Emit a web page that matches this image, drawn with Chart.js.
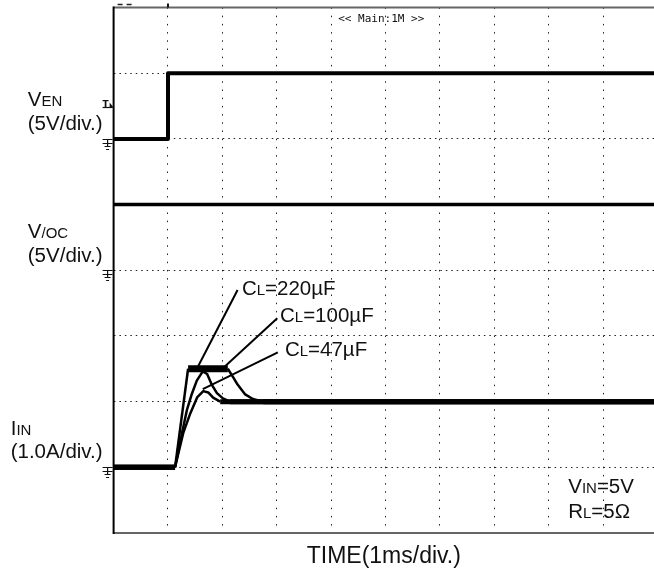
<!DOCTYPE html>
<html>
<head>
<meta charset="utf-8">
<script src="https://cdn.jsdelivr.net/npm/chart.js@4"></script>
<style>
  html, body { margin: 0; padding: 0; background: #fff; overflow: hidden; }
  #wrap { position: relative; width: 662px; height: 575px; }
</style>
</head>
<body>
<div id="wrap"><canvas id="scope"></canvas></div>
<script>
// Screen is 10 time divisions (1 ms/div) by 8 vertical divisions
const timeDivs = 10;
const screenDivs = 8;

// V_EN channel (ground at div 6)
const enTime = [0, 1, 1, 10];
const enLevel = [6, 6, 7, 7];

// V/OC channel (ground at div 4)
const ocTime = [0, 10];
const ocLevel = [5, 5];

// I_IN channel (ground at div 1), one trace per load capacitor
const i220Time = [0, 1.13, 1.37, 2.10, 2.20, 2.28, 2.42, 2.56, 2.75, 10];
const i220Level = [1, 1, 2.5, 2.5, 2.37, 2.26, 2.11, 2.04, 2.0, 2.0];
const i100Time = [0, 1.13, 1.26, 1.35, 1.44, 1.53, 1.64, 1.72, 1.81, 1.90, 2.01, 2.14, 10];
const i100Level = [1, 1, 1.53, 1.88, 2.12, 2.32, 2.46, 2.42, 2.25, 2.13, 2.05, 2.0, 2.0];
const i47Time = [0, 1.13, 1.28, 1.41, 1.54, 1.65, 1.74, 1.83, 1.96, 10];
const i47Level = [1, 1, 1.52, 1.82, 2.07, 2.16, 2.14, 2.06, 2.0, 2.0];

// Left side channel labels
const chanName = ['V', 'V', 'I'];
const chanSub = ['EN', '/OC', 'IN'];
const chanScale = ['(5V/div.)', '(5V/div.)', '(1.0A/div.)'];
const chanGround = [6, 4, 1];

// Capacitor labels
const capValues = ['220µF', '100µF', '47µF'];

const FONT = '"Liberation Sans", Arial, Helvetica, sans-serif';
const BIG = 20.5;
const SMALL = 15;

function toPoints(xs, ys) {
    return xs.map((t, i) => ({ x: t, y: ys[i] }));
}

// thick flat parts (noisy band on the scope), thinner edges
const traceSegment = {
    borderWidth: c => {
        const flat = Math.abs(c.p0.parsed.y - c.p1.parsed.y) < 0.001;
        if (!flat) return 2.5;
        return c.p0.parsed.y > 2.2 ? 7 : 5;
    }
};

// draws "V" + small caps subscript style text
function drawSub(ctx, parts, px, py) {
    let cx = px;
    parts.forEach(p => {
        ctx.font = p[1] + 'px ' + FONT;
        ctx.fillText(p[0], cx, py);
        cx += ctx.measureText(p[0]).width;
    });
}

const scopeDecor = {
    id: 'scopeDecor',
    afterDatasetsDraw(chart) {
        const { ctx, chartArea: a, scales: { x, y } } = chart;
        ctx.save();

        // frame
        ctx.lineWidth = 2;
        ctx.strokeStyle = '#666';
        ctx.beginPath();
        ctx.moveTo(a.left, a.top); ctx.lineTo(a.right, a.top);
        ctx.stroke();
        ctx.beginPath();
        ctx.moveTo(a.left, a.bottom); ctx.lineTo(a.right, a.bottom);
        ctx.stroke();
        ctx.strokeStyle = '#000';
        ctx.beginPath();
        ctx.moveTo(a.left, a.top - 1); ctx.lineTo(a.left, a.bottom + 1);
        ctx.stroke();

        // top marks
        ctx.lineWidth = 1.5;
        ctx.strokeStyle = '#222';
        ctx.beginPath();
        ctx.moveTo(a.left + 4, a.top - 3); ctx.lineTo(a.left + 9, a.top - 3);
        ctx.moveTo(a.left + 13, a.top - 3); ctx.lineTo(a.left + 18, a.top - 3);
        ctx.stroke();
        const tx = x.getPixelForValue(1);
        ctx.fillStyle = '#111';
        ctx.fillRect(tx - 1, a.top - 4, 2, 4);

        // ground markers
        ctx.lineWidth = 1.2;
        ctx.strokeStyle = '#111';
        chanGround.forEach(g => {
            const gy = Math.round(y.getPixelForValue(g)) + 0.5;
            const gx = a.left - 6;
            ctx.beginPath();
            ctx.moveTo(a.left - 11, gy); ctx.lineTo(a.left - 1, gy);
            ctx.moveTo(gx, gy); ctx.lineTo(gx, gy + 7);
            ctx.moveTo(gx - 5, gy + 4); ctx.lineTo(gx + 5, gy + 4);
            ctx.moveTo(gx - 3, gy + 7); ctx.lineTo(gx + 3, gy + 7);
            ctx.moveTo(gx - 1.5, gy + 10); ctx.lineTo(gx + 1.5, gy + 10);
            ctx.stroke();
        });

        // trigger level marker
        const trigY = Math.round(y.getPixelForValue(6.48)) + 0.5;
        ctx.beginPath();
        ctx.moveTo(a.left - 11, trigY); ctx.lineTo(a.left - 1, trigY);
        ctx.stroke();
        ctx.font = 'bold 9px "DejaVu Sans", sans-serif';
        ctx.fillStyle = '#111';
        ctx.textBaseline = 'alphabetic';
        ctx.fillText('T', a.left - 11, trigY - 1);
        ctx.beginPath();
        ctx.moveTo(a.left - 4, trigY - 5);
        ctx.lineTo(a.left, trigY);
        ctx.lineTo(a.left - 4, trigY);
        ctx.closePath();
        ctx.fill();

        // scope header
        ctx.font = '11px "DejaVu Sans Mono", monospace';
        ctx.fillStyle = '#111';
        ctx.fillText('<< Main:1M >>', x.getPixelForValue(4.13), a.top + 14);

        // channel labels, right edge of scale text sits just left of the grid
        ctx.fillStyle = '#111';
        const labelRight = a.left - 11;
        const nameY = [6.62, 4.61, 1.60];
        const scaleY = [6.25, 4.24, 1.26];
        chanName.forEach((n, i) => {
            ctx.font = BIG + 'px ' + FONT;
            const w = ctx.measureText(chanScale[i]).width;
            const lx = labelRight - w;
            drawSub(ctx, [[n, BIG], [chanSub[i], SMALL]], lx, y.getPixelForValue(nameY[i]) + 7.5);
            drawSub(ctx, [[chanScale[i], BIG]], lx, y.getPixelForValue(scaleY[i]) + 7.5);
        });

        // capacitor labels with leader lines
        const capAt = [[2.36, 3.73], [3.06, 3.32], [3.15, 2.81]];
        const leadFrom = [[2.28, 3.70], [3.01, 3.27], [3.02, 2.75]];
        const leadTo = [[1.55, 2.53], [2.05, 2.54], [1.64, 2.19]];
        ctx.lineWidth = 2;
        ctx.strokeStyle = '#000';
        capValues.forEach((v, i) => {
            ctx.beginPath();
            ctx.moveTo(x.getPixelForValue(leadFrom[i][0]), y.getPixelForValue(leadFrom[i][1]));
            ctx.lineTo(x.getPixelForValue(leadTo[i][0]), y.getPixelForValue(leadTo[i][1]));
            ctx.stroke();
            drawSub(ctx, [['C', BIG], ['L', SMALL], ['=' + v, BIG]],
                x.getPixelForValue(capAt[i][0]), y.getPixelForValue(capAt[i][1]) + 7.5);
        });

        // test conditions
        drawSub(ctx, [['V', BIG], ['IN', SMALL], ['=5V', BIG]],
            x.getPixelForValue(8.36), y.getPixelForValue(0.73) + 7.5);
        drawSub(ctx, [['R', BIG], ['L', SMALL], ['=5Ω', BIG]],
            x.getPixelForValue(8.36), y.getPixelForValue(0.35) + 7.5);

        // time axis title
        ctx.font = '23px ' + FONT;
        ctx.textAlign = 'center';
        ctx.fillText('TIME(1ms/div.)', (a.left + 654) / 2, a.bottom + 30);

        ctx.restore();
    }
};

const ctx = document.getElementById('scope').getContext('2d');

new Chart(ctx, {
    type: 'line',
    data: {
        datasets: [
            { label: 'VEN', data: toPoints(enTime, enLevel), borderColor: '#000', borderWidth: 4 },
            { label: 'V/OC', data: toPoints(ocTime, ocLevel), borderColor: '#000', borderWidth: 3.5 },
            { label: 'CL=220µF', data: toPoints(i220Time, i220Level), borderColor: '#000', segment: traceSegment },
            { label: 'CL=100µF', data: toPoints(i100Time, i100Level), borderColor: '#000', segment: traceSegment },
            { label: 'CL=47µF', data: toPoints(i47Time, i47Level), borderColor: '#000', segment: traceSegment }
        ]
    },
    options: {
        responsive: true,
        maintainAspectRatio: false,
        animation: false,
        datasets: {
            line: {
                pointRadius: 0,
                tension: 0,
                fill: false,
                borderJoinStyle: 'round'
            }
        },
        layout: {
            padding: { left: 113.6, top: 7.5, right: 4.6, bottom: 42 }
        },
        scales: {
            x: {
                type: 'linear',
                min: 0,
                max: timeDivs,
                ticks: { display: false, stepSize: 1 },
                grid: { color: '#222', lineWidth: 1, drawTicks: false },
                border: { display: false, dash: [1.5, 6.7] }
            },
            y: {
                type: 'linear',
                min: 0,
                max: screenDivs,
                ticks: { display: false, stepSize: 1 },
                grid: { color: '#222', lineWidth: 1, drawTicks: false },
                border: { display: false, dash: [1.5, 3.94] }
            }
        },
        plugins: {
            legend: { display: false },
            tooltip: { enabled: false }
        }
    },
    plugins: [scopeDecor]
});
</script>
</body>
</html>
